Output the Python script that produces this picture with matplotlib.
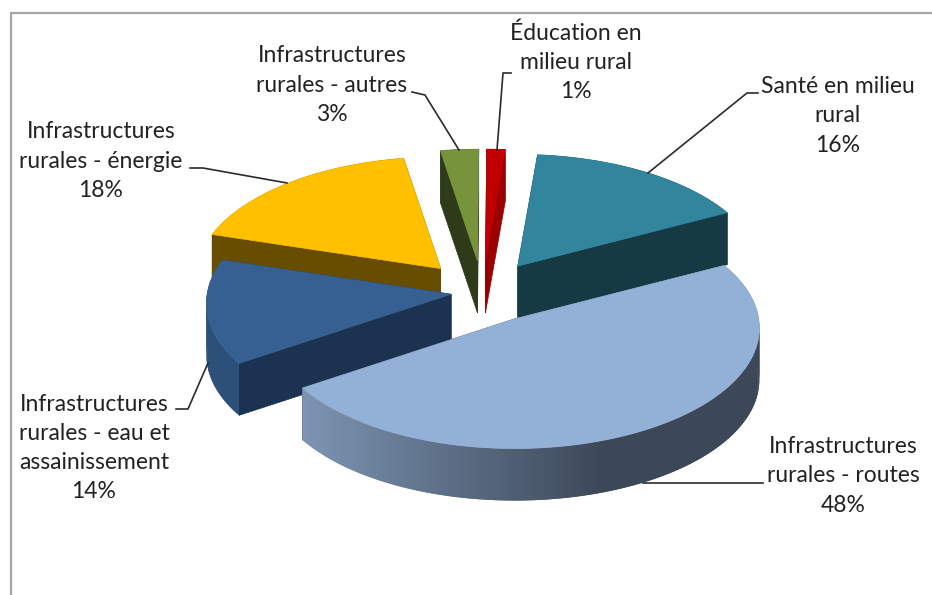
import matplotlib
matplotlib.use("Agg")
import matplotlib.pyplot as plt
import numpy as np
from matplotlib.colors import to_rgb

# slices in clockwise order, starting near 12 o'clock
names = ["Santé en milieu\nrural", "Infrastructures\nrurales - routes",
         "Infrastructures\nrurales - eau et\nassainissement",
         "Infrastructures\nrurales - énergie",
         "Infrastructures\nrurales - autres", "Éducation en\nmilieu rural"]
shares = [16.0, 48.3, 14.0, 17.7, 2.7, 1.3]

explode = [0.26, 0.26, 0.13, 0.26, 0.26, 0.26]
top_colors = ["#31859c", "#93b0d6", "#366092", "#ffc000", "#77933c", "#c00000"]
cut_colors = ["#163a44", "#3c4858", "#1b3250", "#664d00", "#2f3b18", "#9a0000"]
wall_dark = ["#163a44", "#3c4858", "#2d5079", "#664d00", "#2f3b18", "#9a0000"]
wall_light = ["#163a44", "#8099b8", "#2d5079", "#664d00", "#2f3b18", "#9a0000"]

# pixel position of each label centre, same order as names
label_pos = [(838, 116), (843, 476), (94, 448), (101, 161), (332, 85), (576, 62)]
leaders = [
    [(758, 93), (747, 93), (648, 173)],
    [(763, 483), (643, 483)],
    [(176, 409), (188, 409), (208, 363)],
    [(190, 168), (203, 168), (287, 183)],
    [(412, 92), (425, 95), (459, 150)],
    [(511, 73), (503, 73), (497, 150)],
]

START_ANGLE = 5.0
DEPTH = 52
RX, RY, PERSP = 244.0, 120.0, 0.0744
CX, CY = 482.5, 292.0
draw_order = [3, 4, 5, 0, 2, 1]


def project(angle, apex, r=1.0):
    # circle in the pie plane -> screen, far side squeezed a little
    a = np.radians(angle)
    u, v = r * np.sin(a), r * np.cos(a)
    w = 1 + PERSP * v
    return apex[0] + RX * u / w, apex[1] - RY * v / w


def draw_slice(ax, a0, a1, apex, i):
    angles = np.arange(a0, a1 + 0.5, 1.0)
    angles[-1] = a1
    xs, ys = project(angles, apex)

    # straight cuts
    for k in (0, -1):
        ax.fill([apex[0], xs[k], xs[k], apex[0]],
                [apex[1], ys[k], ys[k] + DEPTH, apex[1] + DEPTH],
                color=cut_colors[i], lw=0.5)

    # outer wall, one small quad per degree so the shading can run along it
    # each quad runs over the next one, otherwise the seams show as stripes
    light, dark = np.array(to_rgb(wall_light[i])), np.array(to_rgb(wall_dark[i]))
    n = len(angles)
    for j in range(n - 1):
        e = min(j + 2, n - 1)
        mid = np.sin(np.radians((angles[j] + angles[j + 1]) / 2))
        t = np.clip((0.34 - mid) / 1.23, 0, 1)
        c = dark + (light - dark) * t
        qx = np.r_[xs[j:e + 1], xs[j:e + 1][::-1]]
        qy = np.r_[ys[j:e + 1], ys[j:e + 1][::-1] + DEPTH]
        ax.fill(qx, qy, color=c, lw=0)

    # top face
    ax.fill(np.r_[apex[0], xs], np.r_[apex[1], ys], color=top_colors[i], lw=0.5)


fig = plt.figure(figsize=(9.32, 5.95), dpi=100)
ax = fig.add_axes([0, 0, 1, 1])
ax.set_xlim(0, 932)
ax.set_ylim(595, 0)
ax.axis("off")

# chart frame, only left and top are in the crop
ax.plot([11, 11, 932], [595, 13, 13], color="#a6a6a6", lw=1.6, solid_joinstyle="miter")

edges = START_ANGLE + np.r_[0, np.cumsum(shares)] / np.sum(shares) * 360
for i in draw_order:
    a0, a1 = edges[i], edges[i + 1]
    mid = np.radians((a0 + a1) / 2)
    apex = (CX + RX * explode[i] * np.sin(mid), CY - RY * explode[i] * np.cos(mid))
    draw_slice(ax, a0, a1, apex, i)

for pts in leaders:
    px, py = zip(*pts)
    ax.plot(px, py, color="#2b2b2b", lw=1.2)

for name, share, pos in zip(names, shares, label_pos):
    ax.text(pos[0], pos[1], f"{name}\n{share:.0f}%", ha="center", va="center",
            multialignment="center", family="Lato", fontsize=16.5,
            color="#222222", linespacing=1.48)

fig.savefig("out.png", dpi=100)
